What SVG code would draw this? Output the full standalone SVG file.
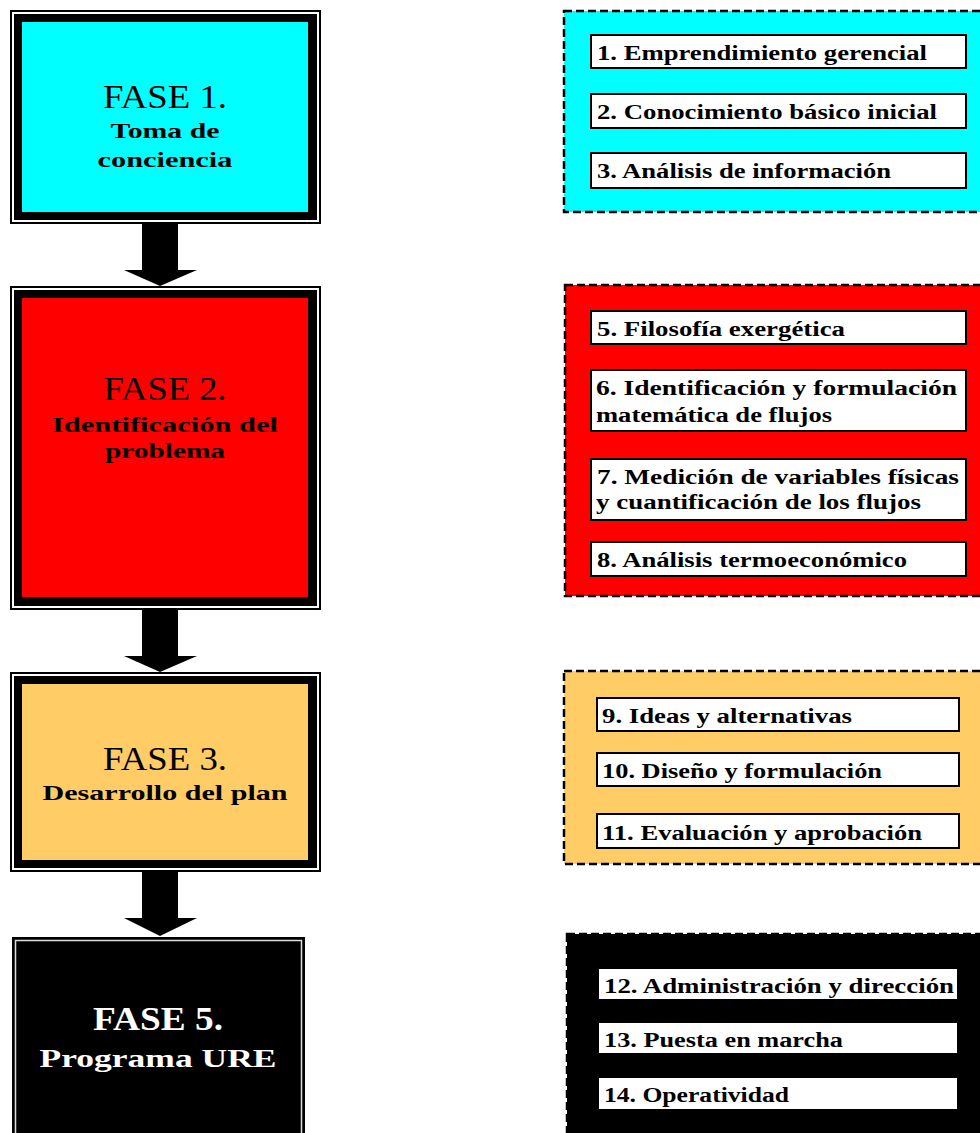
<svg xmlns="http://www.w3.org/2000/svg" width="980" height="1133" viewBox="0 0 980 1133">
  <style>
    .frame { fill: #ffffff; stroke: #000000; stroke-width: 2; }
    .thick { fill: #000000; }
    .head { font-family: "Liberation Serif", "DejaVu Serif", serif; font-size: 34px; text-anchor: middle; fill: #000000; }
    .sub { font-family: "Liberation Serif", "DejaVu Serif", serif; font-size: 22px; font-weight: bold; text-anchor: middle; fill: #000000; }
    .panel { stroke: #000000; stroke-width: 2.5; stroke-dasharray: 8 4; }
    .item { fill: #ffffff; stroke: #000000; stroke-width: 2; }
    .itxt { font-family: "Liberation Serif", "DejaVu Serif", serif; font-size: 20px; font-weight: bold; fill: #000000; }
    .arrow { fill: #000000; }
  </style>

  <!-- Phase column -->
  <g id="fase1">
    <rect class="frame" x="11" y="11" width="309" height="212"/>
    <rect class="thick" x="14" y="14" width="303" height="206"/>
    <rect x="22" y="22" width="286" height="190" fill="#00ffff"/>
    <text class="head" x="165" y="108" textLength="124" lengthAdjust="spacingAndGlyphs">FASE 1.</text>
    <text class="sub" x="165" y="138" textLength="109" lengthAdjust="spacingAndGlyphs">Toma de</text>
    <text class="sub" x="165" y="167" textLength="135" lengthAdjust="spacingAndGlyphs">conciencia</text>
  </g>

  <g id="fase2">
    <rect class="frame" x="11" y="287" width="309" height="322"/>
    <rect class="thick" x="14" y="290" width="303" height="316"/>
    <rect x="22" y="298" width="286" height="299" fill="#ff0000"/>
    <text class="head" x="165" y="400" textLength="123" lengthAdjust="spacingAndGlyphs">FASE 2.</text>
    <text class="sub" x="165" y="432" textLength="226" lengthAdjust="spacingAndGlyphs">Identificación del</text>
    <text class="sub" x="165" y="458" textLength="120" lengthAdjust="spacingAndGlyphs">problema</text>
  </g>

  <g id="fase3">
    <rect class="frame" x="11" y="673" width="309" height="198"/>
    <rect class="thick" x="14" y="676" width="303" height="192"/>
    <rect x="22" y="684" width="286" height="176" fill="#ffcc66"/>
    <text class="head" x="165" y="770" textLength="124" lengthAdjust="spacingAndGlyphs">FASE 3.</text>
    <text class="sub" x="165" y="800" textLength="245" lengthAdjust="spacingAndGlyphs">Desarrollo del plan</text>
  </g>

  <g id="fase5">
    <rect x="12" y="937" width="293" height="198" fill="#000000"/>
    <rect x="15.5" y="940.5" width="286" height="200" fill="none" stroke="#dddddd" stroke-width="1.5"/>
    <text class="head" x="158" y="1030" font-weight="bold" fill="#ffffff" style="fill:#ffffff" textLength="130" lengthAdjust="spacingAndGlyphs">FASE 5.</text>
    <text class="sub" x="158" y="1067" style="fill:#ffffff; font-size:26px" textLength="237" lengthAdjust="spacingAndGlyphs">Programa URE</text>
  </g>

  <!-- Block arrows between phases -->
  <g id="connectors">
    <path class="arrow" d="M142,224 H178 V270 H197 L160,286 L124,270 H142 Z"/>
    <path class="arrow" d="M142,610 H178 V656 H197 L160,672 L124,656 H142 Z"/>
    <path class="arrow" d="M142,872 H178 V918 H197 L160,936 L124,918 H142 Z"/>
  </g>

  <!-- Activity panels -->
  <g id="panel1">
    <rect class="panel" x="564" y="11" width="430" height="201" fill="#00ffff"/>
    <rect class="item" x="591" y="35" width="375" height="33"/>
    <text class="itxt" x="597" y="60" textLength="330" lengthAdjust="spacingAndGlyphs">1. Emprendimiento gerencial</text>
    <rect class="item" x="591" y="94" width="375" height="34"/>
    <text class="itxt" x="597" y="119" textLength="340" lengthAdjust="spacingAndGlyphs">2. Conocimiento básico inicial</text>
    <rect class="item" x="591" y="153" width="375" height="35"/>
    <text class="itxt" x="597" y="178" textLength="294" lengthAdjust="spacingAndGlyphs">3. Análisis de información</text>
  </g>

  <g id="panel2">
    <rect class="panel" x="565" y="285" width="430" height="311" fill="#ff0000"/>
    <rect class="item" x="591" y="311" width="375" height="33"/>
    <text class="itxt" x="597" y="336" textLength="248" lengthAdjust="spacingAndGlyphs">5. Filosofía exergética</text>
    <rect class="item" x="591" y="370" width="375" height="61"/>
    <text class="itxt" x="596" y="395" textLength="361" lengthAdjust="spacingAndGlyphs">6. Identificación y formulación</text>
    <text class="itxt" x="596" y="422" textLength="236" lengthAdjust="spacingAndGlyphs">matemática de flujos</text>
    <rect class="item" x="591" y="459" width="375" height="61"/>
    <text class="itxt" x="597" y="484" textLength="362" lengthAdjust="spacingAndGlyphs">7. Medición de variables físicas</text>
    <text class="itxt" x="596" y="509" textLength="325" lengthAdjust="spacingAndGlyphs">y cuantificación de los flujos</text>
    <rect class="item" x="591" y="542" width="375" height="34"/>
    <text class="itxt" x="597" y="567" textLength="310" lengthAdjust="spacingAndGlyphs">8. Análisis termoeconómico</text>
  </g>

  <g id="panel3">
    <rect class="panel" x="564" y="671" width="430" height="193" fill="#ffcc66"/>
    <rect class="item" x="597" y="698" width="362" height="33"/>
    <text class="itxt" x="602" y="723" textLength="250" lengthAdjust="spacingAndGlyphs">9. Ideas y alternativas</text>
    <rect class="item" x="597" y="753" width="362" height="33"/>
    <text class="itxt" x="602" y="778" textLength="280" lengthAdjust="spacingAndGlyphs">10. Diseño y formulación</text>
    <rect class="item" x="597" y="814" width="362" height="34"/>
    <text class="itxt" x="602" y="840" textLength="320" lengthAdjust="spacingAndGlyphs">11. Evaluación y aprobación</text>
  </g>

  <g id="panel4">
    <rect class="panel" x="567" y="934" width="430" height="210" fill="#000000"/>
    <rect x="599" y="969" width="358" height="30" fill="#ffffff"/>
    <text class="itxt" x="604" y="993" textLength="350" lengthAdjust="spacingAndGlyphs">12. Administración y dirección</text>
    <rect x="599" y="1023" width="358" height="30" fill="#ffffff"/>
    <text class="itxt" x="604" y="1047" textLength="239" lengthAdjust="spacingAndGlyphs">13. Puesta en marcha</text>
    <rect x="599" y="1078" width="358" height="31" fill="#ffffff"/>
    <text class="itxt" x="604" y="1102" textLength="185" lengthAdjust="spacingAndGlyphs">14. Operatividad</text>
  </g>
</svg>
